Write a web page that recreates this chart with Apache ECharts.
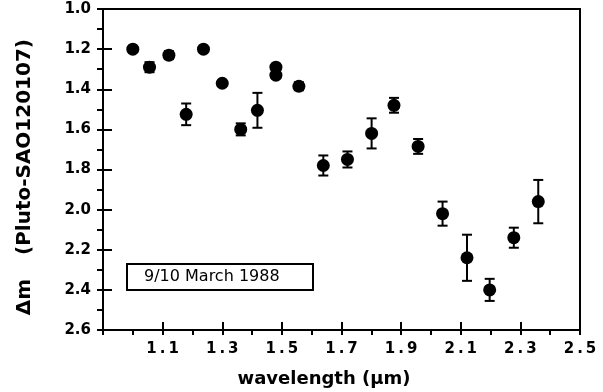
<!DOCTYPE html>
<html><head><meta charset="utf-8">
<script src="https://cdn.jsdelivr.net/npm/echarts@6/dist/echarts.min.js"></script>
<style>html,body{margin:0;padding:0;background:#fff}#c{width:603px;height:392px}</style>
</head><body><div id="c"></div>
<script>
// ---- data ----
const wavelength = [1.00, 1.056, 1.121, 1.179, 1.237, 1.300, 1.362, 1.418, 1.480, 1.480, 1.557, 1.639, 1.720, 1.801, 1.876, 1.957, 2.039, 2.121, 2.197, 2.278, 2.360];
const deltaM     = [1.20, 1.29, 1.23, 1.525, 1.20, 1.37, 1.60, 1.505, 1.29, 1.33, 1.385, 1.78, 1.75, 1.62, 1.48, 1.685, 2.02, 2.24, 2.40, 2.14, 1.96];
const errorDm    = [0, 0.025, 0.02, 0.054, 0, 0, 0.03, 0.087, 0, 0, 0.02, 0.05, 0.04, 0.075, 0.037, 0.037, 0.06, 0.115, 0.055, 0.05, 0.108];
const xTickLabels = ['1.1', '1.3', '1.5', '1.7', '1.9', '2.1', '2.3', '2.5'];
const yTickLabels = ['1.0', '1.2', '1.4', '1.6', '1.8', '2.0', '2.2', '2.4', '2.6'];
const xTitle = 'wavelength (\u00b5m)';
const yTitleA = '\u0394m';
const yTitleB = '(Pluto-SAO120107)';
const boxLabel = '9/10 March 1988';

const FONT = 'DejaVu Sans';
const points = wavelength.map((w, i) => [w, deltaM[i]]);
const errs = wavelength.map((w, i) => [w, deltaM[i] - errorDm[i], deltaM[i] + errorDm[i]]);

const axisBlack = {show: true, lineStyle: {color: '#000', width: 2}};
const chart = echarts.init(document.getElementById('c'), null, {renderer: 'canvas'});
chart.setOption({
  animation: false,
  backgroundColor: '#fff',
  grid: {left: 103, right: 23, top: 9, bottom: 62, show: true, borderColor: '#000', borderWidth: 2, backgroundColor: 'transparent'},
  xAxis: [{
    type: 'value', min: 0.9, max: 2.5, interval: 0.2, position: 'bottom',
    splitLine: {show: false},
    axisLine: axisBlack,
    axisTick: {show: true, inside: true, length: 8, lineStyle: {color: '#000', width: 2}},
    axisLabel: {
      margin: 12, color: '#000', fontFamily: FONT, fontWeight: 'bold', fontSize: 15,
      formatter: v => { const s = v.toFixed(1); return xTickLabels.includes(s) ? s.split('').join('\u2009') : ''; }
    }
  }, {
    type: 'value', min: 0.9, max: 2.5, interval: 0.1, position: 'bottom', offset: 0,
    splitLine: {show: false},
    axisLine: {show: false, onZero: false},
    axisTick: {show: true, inside: false, length: 5, lineStyle: {color: '#000', width: 2}},
    axisLabel: {show: false}
  }],
  yAxis: [{
    type: 'value', min: 1.0, max: 2.6, interval: 0.2, inverse: true, position: 'left',
    splitLine: {show: false},
    axisLine: axisBlack,
    axisTick: {show: true, inside: true, length: 9, lineStyle: {color: '#000', width: 2}},
    axisLabel: {
      margin: 12, color: '#000', fontFamily: FONT, fontWeight: 'bold', fontSize: 15,
      formatter: v => { const s = v.toFixed(1); return yTickLabels.includes(s) ? s : ''; }
    }
  }, {
    type: 'value', min: 1.0, max: 2.6, interval: 0.1, inverse: true, position: 'left', offset: 0,
    splitLine: {show: false},
    axisLine: {show: false, onZero: false},
    axisTick: {show: true, inside: false, length: 6, lineStyle: {color: '#000', width: 2}},
    axisLabel: {show: false}
  }],
  graphic: [
    {type: 'text', x: 324, y: 379, style: {text: xTitle, fill: '#000', font: 'bold 18px "DejaVu Sans"', align: 'center', verticalAlign: 'middle'}},
    {type: 'text', x: 25, y: 147, rotation: Math.PI / 2, style: {text: yTitleB, fill: '#000', font: 'bold 20px "DejaVu Sans"', align: 'center', verticalAlign: 'middle'}},
    {type: 'text', x: 25, y: 297, rotation: Math.PI / 2, style: {text: yTitleA, fill: '#000', font: 'bold 20px "DejaVu Sans"', align: 'center', verticalAlign: 'middle'}},
    {type: 'rect', shape: {x: 127, y: 264, width: 186, height: 26}, style: {fill: '#fff', stroke: '#000', lineWidth: 2}, z: 10},
    {type: 'text', x: 144, y: 277, z: 11, style: {text: boxLabel, fill: '#000', font: '16px "DejaVu Sans"', align: 'left', verticalAlign: 'middle'}}
  ],
  series: [
    {
      type: 'custom',
      data: errs,
      z: 3,
      renderItem: (params, api) => {
        const x = api.value(0);
        const lo = api.coord([x, api.value(1)]);
        const hi = api.coord([x, api.value(2)]);
        const hw = 5;
        const st = {stroke: '#000', lineWidth: 2};
        if (Math.abs(hi[1] - lo[1]) < 1) return {type: 'group', children: []};
        return {type: 'group', children: [
          {type: 'line', shape: {x1: lo[0], y1: lo[1], x2: hi[0], y2: hi[1]}, style: st},
          {type: 'line', shape: {x1: lo[0] - hw, y1: lo[1], x2: lo[0] + hw, y2: lo[1]}, style: st},
          {type: 'line', shape: {x1: hi[0] - hw, y1: hi[1], x2: hi[0] + hw, y2: hi[1]}, style: st}
        ]};
      }
    },
    {
      type: 'scatter', data: points, symbol: 'circle', symbolSize: 13, z: 4,
      itemStyle: {color: '#000', opacity: 1}
    }
  ]
});
</script>
</body></html>
